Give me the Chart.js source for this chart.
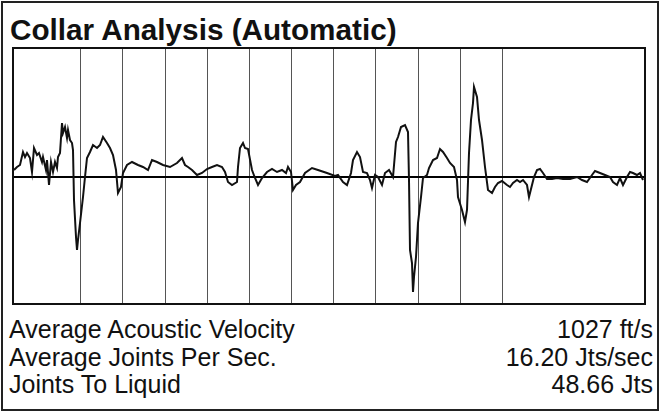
<!DOCTYPE html>
<html>
<head>
<meta charset="utf-8">
<script src="https://cdn.jsdelivr.net/npm/chart.js@4"></script>
<style>
  body { margin: 0; background: #fff; font-family: "Liberation Sans", Arial, sans-serif; color: #111; }
  .frame { position: absolute; left: 1px; top: 1px; width: 658px; height: 410px; border: 2px solid #222; box-sizing: border-box; }
  .title { position: absolute; left: 10px; top: 13px; font-size: 29.7px; line-height: 34px; font-weight: bold; white-space: nowrap; }
  .plot { position: absolute; left: 12px; top: 47px; width: 634px; height: 258px; border: 2px solid #111; box-sizing: border-box; }
  .stats { position: absolute; left: 9px; top: 316px; width: 644px; font-size: 25px; line-height: 27.5px; }
  .row { display: flex; justify-content: space-between; white-space: nowrap; }
</style>
</head>
<body>
<div class="frame"></div>
<div class="title">Collar Analysis (Automatic)</div>
<div class="plot"><canvas id="collar" width="630" height="254"></canvas></div>
<div class="stats" id="stats"></div>

<script>
/* collar trace: time position and amplitude (zero = centre line) */
const time = [0, 3, 6, 9, 11, 13, 16, 18, 20, 23, 25, 28, 29, 32, 33, 35, 37, 39, 41, 43, 44, 46, 48, 49, 51, 53, 54, 56, 58, 59,
  60, 62, 63, 64, 66, 69, 71, 73, 76, 79, 83, 86, 89, 93, 96, 99, 102, 104, 107, 109, 113, 118, 124, 129, 134, 138, 143, 149, 156, 163,
  168, 171, 174, 178, 183, 188, 193, 198, 203, 208, 211, 214, 218, 223, 224, 226, 229, 231, 234, 238, 241, 244, 248, 253, 258, 263, 268, 272, 274, 277,
  279, 282, 286, 291, 298, 304, 313, 321, 324, 329, 333, 337, 339, 343, 346, 349, 353, 356, 358, 361, 364, 368, 371, 375, 379, 382, 384, 387, 391, 394,
  395, 396, 398, 399, 400, 402, 404, 407, 409, 413, 415, 419, 423, 426, 429, 433, 436, 440, 443, 444, 448, 451, 453, 455, 457, 459, 460, 463, 465, 468,
  471, 474, 478, 481, 484, 488, 493, 496, 499, 503, 506, 509, 513, 515, 518, 520, 523, 526, 529, 533, 538, 543, 549, 556, 563, 568, 573, 578, 581, 586,
  591, 596, 599, 603, 606, 609, 613, 616, 619, 623, 626, 629];
const amplitude = [7, 10, 12, 25, 20, 24, 19, 5, 29, 22, 24, 15, 20, 7, 17, -8, 15, 5, 15, 9, 20, 24, 54, 44, 50, 39, 47, 37, 34, 27,
  -23, -60, -73, -63, -46, -20, 0, 19, 25, 32, 29, 32, 40, 34, 29, 22, 7, -16, -10, 4, 12, 15, 12, 10, 7, 17, 15, 12, 10, 14,
  19, 12, 10, 7, 2, 4, 8, 10, 12, 10, 5, -5, -8, -5, 10, 29, 34, 29, 28, 7, -1, -8, -1, 5, 8, 5, 7, 4, 10, 5,
  -13, -8, -5, 4, 9, 7, 4, 1, 2, -5, -8, 4, 17, 25, 20, 5, 4, -3, -11, 2, 0, -8, 4, 7, 0, 35, 40, 50, 52, 45,
  -3, -73, -86, -115, -100, -80, -46, -20, -1, 2, 9, 17, 19, 28, 25, 19, 14, 10, -3, -20, -33, -45, -33, 24, 57, 74, 90, 80, 57, 37,
  10, -13, -16, -10, -6, -4, -8, -10, -6, -3, -5, -3, -8, -20, -8, 0, 7, 8, 4, -2, -2, -1, -2, -2, 0, -3, -5, 2, 6, 4,
  2, 0, -5, -8, -1, -8, 0, 5, 4, 2, 4, -3];

/* joint marker lines and the axis span */
const jointMarks = [66, 108, 151, 193, 235, 277, 319, 361, 404, 446, 488];
const timeRange = [0, 630];
const ampRange = [-126, 128];

/* summary lines under the chart */
const statLabels = ["Average Acoustic Velocity", "Average Joints Per Sec.", "Joints To Liquid"];
const statValues = ["1027 ft/s", "16.20 Jts/sec", "48.66 Jts"];

let stats = document.getElementById("stats");
statLabels.forEach((label, i) => {
  stats.innerHTML += `<div class="row"><span>${label}</span><span>${statValues[i]}</span></div>`;
});

const points = time.map((t, i) => ({ x: t, y: amplitude[i] }));

new Chart(document.getElementById("collar"), {
  type: "line",
  data: {
    datasets: [{
      data: points,
      borderColor: "#111",
      borderWidth: 2,
      pointRadius: 0,
      tension: 0,
      fill: false
    }]
  },
  options: {
    responsive: false,
    animation: false,
    layout: { padding: 0 },
    plugins: { legend: { display: false }, tooltip: { enabled: false } },
    scales: {
      x: {
        type: "linear",
        min: timeRange[0],
        max: timeRange[1],
        afterBuildTicks: scale => { scale.ticks = jointMarks.map(v => ({ value: v })); },
        ticks: { display: false },
        grid: { drawTicks: false, color: "#555", lineWidth: 1 },
        border: { display: false }
      },
      y: {
        min: ampRange[0],
        max: ampRange[1],
        afterBuildTicks: scale => { scale.ticks = [{ value: 0 }]; },
        ticks: { display: false },
        grid: { drawTicks: false, color: "#000", lineWidth: 2 },
        border: { display: false }
      }
    }
  }
});
</script>
</body>
</html>
